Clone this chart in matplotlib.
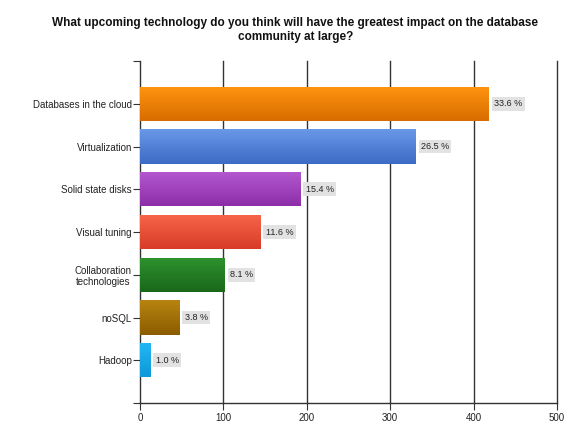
import matplotlib
matplotlib.use("Agg")
import matplotlib.pyplot as plt
import numpy as np
from matplotlib.colors import LinearSegmentedColormap

categories = ["Databases in the cloud", "Virtualization", "Solid state disks",
              "Visual tuning", "Collaboration\ntechnologies", "noSQL", "Hadoop"]
counts = [418, 330, 192, 144, 101, 47, 12]
percent_labels = ["33.6 %", "26.5 %", "15.4 %", "11.6 %", "8.1 %", "3.8 %", "1.0 %"]
x_ticks = [0, 100, 200, 300, 400, 500]
title = "What upcoming technology do you think will have the greatest impact on the database\ncommunity at large?"

top_colors = ["#FF9410", "#6A98E8", "#B458D0", "#F8654A", "#2E922E", "#B88410", "#22B8F4"]
bot_colors = ["#D86C00", "#3D6AC4", "#8C2EA8", "#D63C28", "#1A681A", "#8C5C00", "#0E98D8"]

plt.rcParams['font.family'] = ['Liberation Sans', 'DejaVu Sans']

fig = plt.figure(figsize=(5.88, 4.41), dpi=100)
ax = fig.add_axes([140/588, 1-403/441, (557-140)/588, (403-61)/441])

y = np.arange(len(categories))
bars = ax.barh(y, counts, height=0.8, color=top_colors, edgecolor="none", zorder=3)

grad = np.linspace(0, 1, 64).reshape(-1, 1)
for b, tc, bc in zip(bars, top_colors, bot_colors):
    cmap = LinearSegmentedColormap.from_list("g", [tc, bc])
    x0, y0 = b.get_x(), b.get_y()
    w, h = b.get_width(), b.get_height()
    im = ax.imshow(grad, cmap=cmap, aspect="auto", extent=(x0, x0 + w, y0 + h, y0),
                   origin="upper", zorder=3.5, interpolation="bilinear")
    im.set_clip_path(b)

for b, lab in zip(bars, percent_labels):
    ax.annotate(lab, xy=(b.get_width(), b.get_y() + b.get_height()/2),
                xytext=(4, 0), textcoords="offset points", ha="left", va="center",
                fontsize=6.5, color="#222222", zorder=5,
                bbox=dict(boxstyle="square,pad=0.25", facecolor="#E2E2E2", edgecolor="none"))

ax.set_xlim(0, 500)
ax.set_ylim(7, -1)
ax.set_xticks(x_ticks)
ax.set_xticklabels([str(t) for t in x_ticks], fontsize=7, color="#222222")
ax.set_yticks(y)
ax.set_yticklabels(categories, fontsize=7, color="#222222", multialignment="center")
ax.set_yticks([-1, 7], minor=True)
ax.tick_params(axis="y", which="both", length=5, width=0.8, color="#333333", pad=0.8)
ax.tick_params(axis="x", length=5, width=0.8, color="#333333", pad=2)

for xv in x_ticks[1:]:
    ax.axvline(xv, color="#333333", linewidth=1.0, zorder=1, clip_on=False)

for s in ["top", "right"]:
    ax.spines[s].set_visible(False)
for s in ["left", "bottom"]:
    ax.spines[s].set_color("#333333")
    ax.spines[s].set_linewidth(1.0)

fig.text(0.502, 1-30/441, title, ha="center", va="center", fontsize=8.5,
         fontweight="bold", color="#111111", linespacing=1.3)

fig.savefig("out.png", dpi=100)
